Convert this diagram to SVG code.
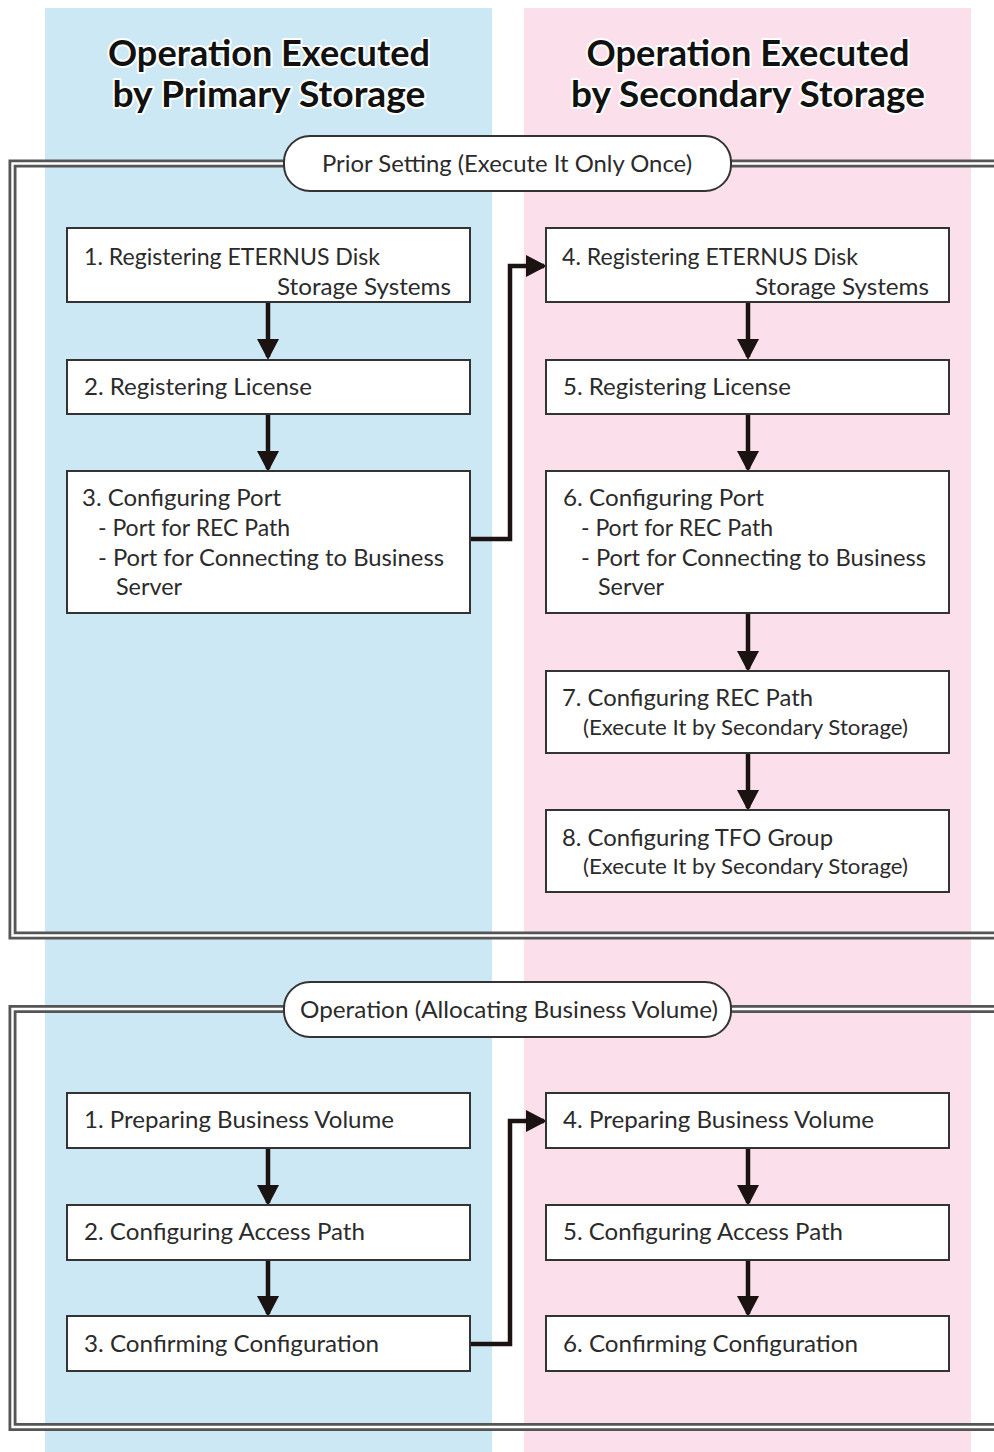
<svg xmlns="http://www.w3.org/2000/svg" width="994" height="1452" viewBox="0 0 994 1452">
<defs>
<style>
.colA{fill:#cce8f4}
.colB{fill:#fbe0eb}
.hdr{font-family:Lato,"Open Sans",sans-serif;font-weight:700;font-size:37px;fill:#111;stroke:#fff;stroke-width:4px;paint-order:stroke;stroke-linejoin:round}
.box{fill:#fff;stroke:#333;stroke-width:2}
.t{font-family:Lato,"Noto Sans",sans-serif;font-size:23px;fill:#2b2b2b}
.s{font-family:Lato,"Noto Sans",sans-serif;font-size:21px;fill:#2b2b2b}
.pill{fill:#fff;stroke:#333;stroke-width:2}
.frO{fill:none;stroke:#555;stroke-width:8}
.frI{fill:none;stroke:#fff;stroke-width:2.4}
.arr{fill:none;stroke:#1a1311;stroke-width:4.5}
</style>
<marker id="ah" markerUnits="userSpaceOnUse" markerWidth="24" markerHeight="24" refX="18" refY="12" orient="auto">
<path d="M0,1 L21,12 L0,23 Z" fill="#1a1311"/>
</marker>
</defs>
<rect width="994" height="1452" fill="#fff"/>
<g id="lanes">
<rect class="colA" x="45" y="8" width="447" height="1444"/>
<rect class="colB" x="524" y="8" width="447" height="1444"/>
<text class="hdr" x="269" y="66" text-anchor="middle" textLength="322" lengthAdjust="spacingAndGlyphs">Operation Executed</text>
<text class="hdr" x="269" y="107" text-anchor="middle" textLength="313" lengthAdjust="spacingAndGlyphs">by Primary Storage</text>
<text class="hdr" x="748" y="66" text-anchor="middle" textLength="323" lengthAdjust="spacingAndGlyphs">Operation Executed</text>
<text class="hdr" x="748" y="107" text-anchor="middle" textLength="354" lengthAdjust="spacingAndGlyphs">by Secondary Storage</text>
</g>
<g id="frame1">
<path class="frO" d="M286,163.5 H12.5 V935.5 H1000 M730,163.5 H1000"/>
<path class="frI" d="M286,163.5 H12.5 V935.5 H1000 M730,163.5 H1000"/>
<rect class="pill" x="284" y="136" width="447" height="55" rx="26"/>
<text class="t" x="507" y="172" text-anchor="middle" textLength="370" lengthAdjust="spacingAndGlyphs">Prior Setting (Execute It Only Once)</text>
</g>
<g id="frame2">
<path class="frO" d="M286,1009 H12.5 V1427 H1000 M730,1009 H1000"/>
<path class="frI" d="M286,1009 H12.5 V1427 H1000 M730,1009 H1000"/>
<rect class="pill" x="284" y="982" width="447" height="55" rx="26"/>
<text class="t" x="509" y="1018" text-anchor="middle" textLength="418" lengthAdjust="spacingAndGlyphs">Operation (Allocating Business Volume)</text>
</g>
<g id="connectors">
<path class="arr" d="M268,302 V357" marker-end="url(#ah)"/>
<path class="arr" d="M268,414 V469" marker-end="url(#ah)"/>
<path class="arr" d="M748,302 V357" marker-end="url(#ah)"/>
<path class="arr" d="M748,414 V469" marker-end="url(#ah)"/>
<path class="arr" d="M748,613 V669" marker-end="url(#ah)"/>
<path class="arr" d="M748,753 V808" marker-end="url(#ah)"/>
<path class="arr" d="M470,539 H510 V266 H544" marker-end="url(#ah)"/>
<path class="arr" d="M268,1148 V1203" marker-end="url(#ah)"/>
<path class="arr" d="M268,1260 V1314" marker-end="url(#ah)"/>
<path class="arr" d="M748,1148 V1203" marker-end="url(#ah)"/>
<path class="arr" d="M748,1260 V1314" marker-end="url(#ah)"/>
<path class="arr" d="M470,1344 H510 V1121 H544" marker-end="url(#ah)"/>
</g>
<g id="p1">
<rect class="box" x="67" y="228" width="403" height="74"/>
<text class="t" x="84" y="265" textLength="296" lengthAdjust="spacingAndGlyphs">1. Registering ETERNUS Disk</text>
<text class="t" x="451" y="295" text-anchor="end" textLength="174" lengthAdjust="spacingAndGlyphs">Storage Systems</text>
</g>
<g id="p2">
<rect class="box" x="67" y="360" width="403" height="54"/>
<text class="t" x="84" y="395" textLength="228" lengthAdjust="spacingAndGlyphs">2. Registering License</text>
</g>
<g id="p3">
<rect class="box" x="67" y="471" width="403" height="142"/>
<text class="t" x="82" y="506" textLength="199" lengthAdjust="spacingAndGlyphs">3. Configuring Port</text>
<text class="t" x="98" y="536" textLength="192" lengthAdjust="spacingAndGlyphs">- Port for REC Path</text>
<text class="t" x="98" y="566" textLength="346" lengthAdjust="spacingAndGlyphs">- Port for Connecting to Business</text>
<text class="t" x="116" y="595" textLength="66" lengthAdjust="spacingAndGlyphs">Server</text>
</g>
<g id="s4">
<rect class="box" x="546" y="228" width="403" height="74"/>
<text class="t" x="562" y="265" textLength="296" lengthAdjust="spacingAndGlyphs">4. Registering ETERNUS Disk</text>
<text class="t" x="929" y="295" text-anchor="end" textLength="174" lengthAdjust="spacingAndGlyphs">Storage Systems</text>
</g>
<g id="s5">
<rect class="box" x="546" y="360" width="403" height="54"/>
<text class="t" x="563" y="395" textLength="228" lengthAdjust="spacingAndGlyphs">5. Registering License</text>
</g>
<g id="s6">
<rect class="box" x="546" y="471" width="403" height="142"/>
<text class="t" x="563" y="506" textLength="201" lengthAdjust="spacingAndGlyphs">6. Configuring Port</text>
<text class="t" x="581" y="536" textLength="192" lengthAdjust="spacingAndGlyphs">- Port for REC Path</text>
<text class="t" x="581" y="566" textLength="345" lengthAdjust="spacingAndGlyphs">- Port for Connecting to Business</text>
<text class="t" x="598" y="595" textLength="66" lengthAdjust="spacingAndGlyphs">Server</text>
</g>
<g id="s7">
<rect class="box" x="546" y="671" width="403" height="82"/>
<text class="t" x="562" y="706" textLength="251" lengthAdjust="spacingAndGlyphs">7. Configuring REC Path</text>
<text class="s" x="583" y="735" textLength="325" lengthAdjust="spacingAndGlyphs">(Execute It by Secondary Storage)</text>
</g>
<g id="s8">
<rect class="box" x="546" y="810" width="403" height="82"/>
<text class="t" x="562" y="846" textLength="271" lengthAdjust="spacingAndGlyphs">8. Configuring TFO Group</text>
<text class="s" x="583" y="874" textLength="325" lengthAdjust="spacingAndGlyphs">(Execute It by Secondary Storage)</text>
</g>
<g id="op1">
<rect class="box" x="67" y="1093" width="403" height="55"/>
<text class="t" x="84" y="1128" textLength="310" lengthAdjust="spacingAndGlyphs">1. Preparing Business Volume</text>
</g>
<g id="op2">
<rect class="box" x="67" y="1205" width="403" height="55"/>
<text class="t" x="84" y="1240" textLength="281" lengthAdjust="spacingAndGlyphs">2. Configuring Access Path</text>
</g>
<g id="op3">
<rect class="box" x="67" y="1316" width="403" height="55"/>
<text class="t" x="84" y="1352" textLength="295" lengthAdjust="spacingAndGlyphs">3. Confirming Configuration</text>
</g>
<g id="os4">
<rect class="box" x="546" y="1093" width="403" height="55"/>
<text class="t" x="563" y="1128" textLength="311" lengthAdjust="spacingAndGlyphs">4. Preparing Business Volume</text>
</g>
<g id="os5">
<rect class="box" x="546" y="1205" width="403" height="55"/>
<text class="t" x="563" y="1240" textLength="280" lengthAdjust="spacingAndGlyphs">5. Configuring Access Path</text>
</g>
<g id="os6">
<rect class="box" x="546" y="1316" width="403" height="55"/>
<text class="t" x="563" y="1352" textLength="295" lengthAdjust="spacingAndGlyphs">6. Confirming Configuration</text>
</g>
</svg>
